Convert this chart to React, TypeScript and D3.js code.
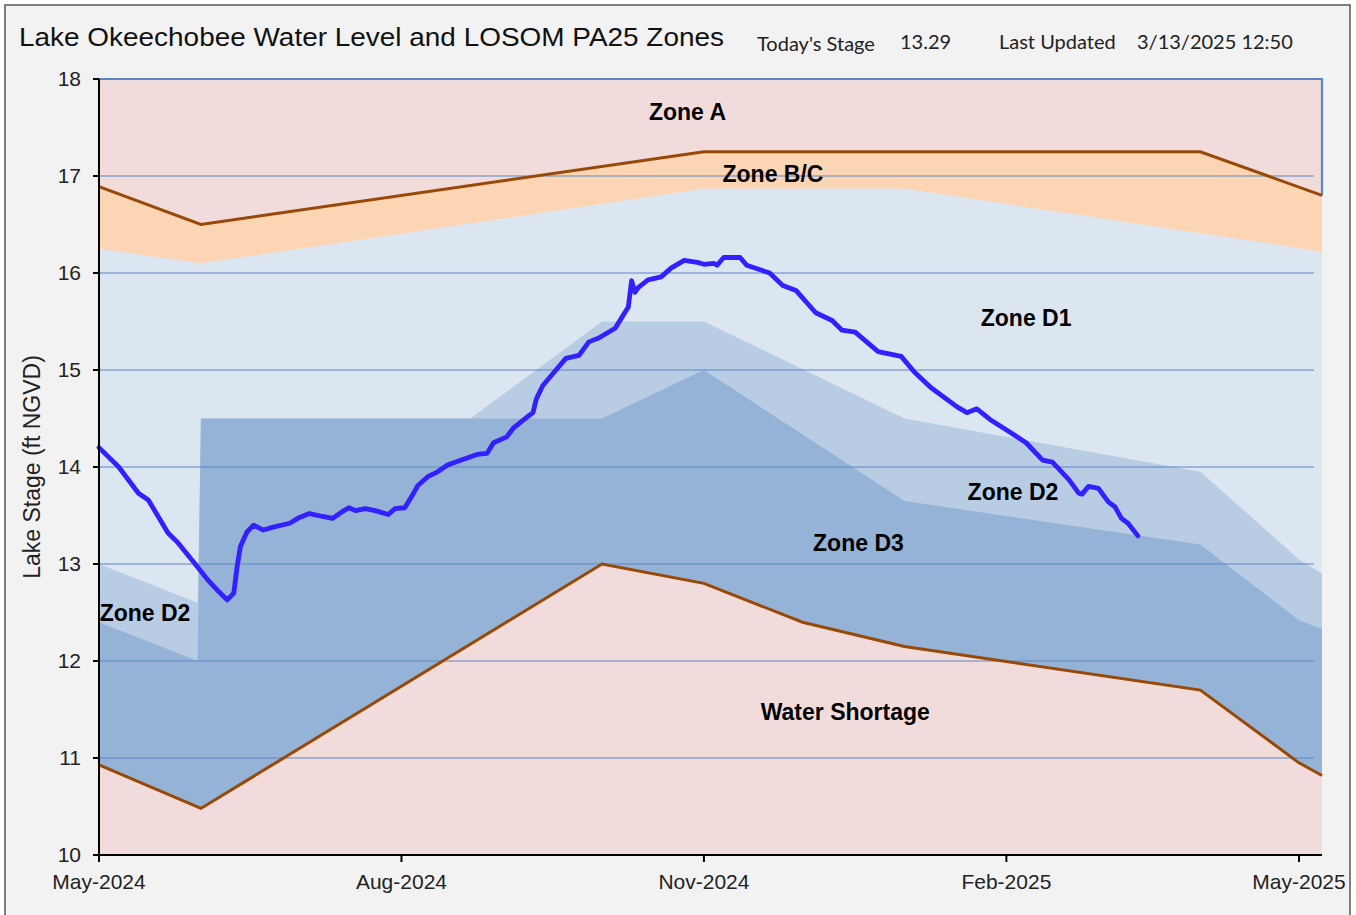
import React from 'react';
import * as d3 from 'd3';

// lake stage readings (ft NGVD)
const stage: [string, number][] = [
  ['2024-05-01', 14.2], ['2024-05-07', 14.0], ['2024-05-13', 13.73], ['2024-05-16', 13.66],
  ['2024-05-22', 13.32], ['2024-05-25', 13.22], ['2024-05-30', 13.01], ['2024-06-03', 12.84],
  ['2024-06-06', 12.73], ['2024-06-09', 12.63], ['2024-06-11', 12.7], ['2024-06-12', 12.97],
  ['2024-06-13', 13.18], ['2024-06-15', 13.33], ['2024-06-17', 13.4], ['2024-06-20', 13.35],
  ['2024-06-23', 13.38], ['2024-06-28', 13.42], ['2024-07-01', 13.48], ['2024-07-04', 13.52],
  ['2024-07-08', 13.49], ['2024-07-11', 13.47], ['2024-07-14', 13.54], ['2024-07-16', 13.58],
  ['2024-07-18', 13.55], ['2024-07-21', 13.57], ['2024-07-24', 13.55], ['2024-07-28', 13.51],
  ['2024-07-30', 13.57], ['2024-08-02', 13.58], ['2024-08-04', 13.69], ['2024-08-06', 13.81],
  ['2024-08-09', 13.9], ['2024-08-12', 13.95], ['2024-08-15', 14.02], ['2024-08-19', 14.07],
  ['2024-08-24', 14.13], ['2024-08-27', 14.14], ['2024-08-29', 14.25], ['2024-09-02', 14.31],
  ['2024-09-04', 14.4], ['2024-09-08', 14.51], ['2024-09-10', 14.56], ['2024-09-11', 14.7],
  ['2024-09-13', 14.84], ['2024-09-17', 15.0], ['2024-09-20', 15.12], ['2024-09-24', 15.15],
  ['2024-09-27', 15.29], ['2024-09-30', 15.33], ['2024-10-05', 15.43], ['2024-10-07', 15.54],
  ['2024-10-09', 15.65], ['2024-10-10', 15.92], ['2024-10-11', 15.8], ['2024-10-12', 15.85],
  ['2024-10-15', 15.93], ['2024-10-19', 15.96], ['2024-10-22', 16.05], ['2024-10-26', 16.13],
  ['2024-10-30', 16.11], ['2024-11-01', 16.09], ['2024-11-04', 16.1], ['2024-11-05', 16.08],
  ['2024-11-07', 16.16], ['2024-11-12', 16.16], ['2024-11-14', 16.08], ['2024-11-21', 16.0],
  ['2024-11-25', 15.87], ['2024-11-29', 15.82], ['2024-12-05', 15.59], ['2024-12-10', 15.51],
  ['2024-12-13', 15.41], ['2024-12-17', 15.39], ['2024-12-24', 15.19], ['2024-12-31', 15.14],
  ['2025-01-04', 14.98], ['2025-01-09', 14.82], ['2025-01-17', 14.62], ['2025-01-20', 14.56],
  ['2025-01-23', 14.6], ['2025-01-27', 14.49], ['2025-02-02', 14.36], ['2025-02-07', 14.25],
  ['2025-02-12', 14.07], ['2025-02-15', 14.05], ['2025-02-20', 13.87], ['2025-02-23', 13.73],
  ['2025-02-24', 13.72], ['2025-02-26', 13.8], ['2025-03-01', 13.78], ['2025-03-04', 13.64],
  ['2025-03-06', 13.59], ['2025-03-08', 13.47], ['2025-03-10', 13.42], ['2025-03-13', 13.29],
];

// zone boundaries (top edge of each zone)
const zoneBCTop: [string, number][] = [
  ['2024-05-01', 16.89], ['2024-06-01', 16.5], ['2024-11-01', 17.25], ['2025-04-01', 17.25], ['2025-05-08', 16.8],
];
const zoneD1Top: [string, number][] = [
  ['2024-05-01', 16.25], ['2024-06-01', 16.1], ['2024-11-01', 16.87], ['2025-01-01', 16.87], ['2025-05-08', 16.22],
];
const zoneD2Top: [string, number][] = [
  ['2024-05-01', 13.0], ['2024-05-31', 12.6], ['2024-06-01', 14.5], ['2024-08-22', 14.5], ['2024-10-01', 15.5],
  ['2024-11-01', 15.5], ['2025-01-01', 14.5], ['2025-04-01', 13.95], ['2025-05-01', 13.05], ['2025-05-08', 12.9],
];
const zoneD3Top: [string, number][] = [
  ['2024-05-01', 12.4], ['2024-05-31', 12.0], ['2024-06-01', 14.5], ['2024-10-01', 14.5], ['2024-11-01', 15.0],
  ['2025-01-01', 13.65], ['2025-04-01', 13.2], ['2025-05-01', 12.42], ['2025-05-08', 12.33],
];
const shortageTop: [string, number][] = [
  ['2024-05-01', 10.93], ['2024-06-01', 10.48], ['2024-10-01', 13.0], ['2024-11-01', 12.8], ['2024-12-01', 12.4],
  ['2025-01-01', 12.15], ['2025-04-01', 11.7], ['2025-05-01', 10.95], ['2025-05-08', 10.82],
];

const zoneLabels: [string, string, number][] = [
  ['Zone A', '2024-10-27', 17.66],
  ['Zone B/C', '2024-11-22', 17.02],
  ['Zone D1', '2025-02-07', 15.54],
  ['Zone D2', '2025-02-03', 13.74],
  ['Zone D3', '2024-12-18', 13.22],
  ['Zone D2', '2024-05-15', 12.5],
  ['Water Shortage', '2024-12-14', 11.47],
];

const yTicks = [10, 11, 12, 13, 14, 15, 16, 17, 18];
const xTicks = ['2024-05-01', '2024-08-01', '2024-11-01', '2025-02-01', '2025-05-01'];

const todayStage = '13.29';
const lastUpdated = '3/13/2025 12:50';

const parse = d3.timeParse('%Y-%m-%d');
const W = 1356;
const H = 915;

export default function App() {
  const x = d3.scaleTime()
    .domain([parse('2024-05-01')!, parse('2025-05-08')!])
    .range([99, 1322]);
  const y = d3.scaleLinear().domain([10, 18]).range([855, 79]);

  const area = d3.area<[string, number]>()
    .x(d => x(parse(d[0])!))
    .y0(y(10))
    .y1(d => y(d[1]));
  const line = d3.line<[string, number]>()
    .x(d => x(parse(d[0])!))
    .y(d => y(d[1]));

  const [x0, x1] = x.range();
  const fmt = d3.timeFormat('%b-%Y');
  const axisFont = '"Liberation Sans", Arial, sans-serif';
  const lastA = zoneBCTop[zoneBCTop.length - 1][1];

  return (
    <div style={{ position: 'absolute', left: 0, top: 0 }}>
      <svg width={W} height={H} style={{ display: 'block' }}>
        <rect x={0} y={0} width={W} height={H} fill="#ffffff" />
        <rect x={5} y={5} width={1345} height={H} fill="#f2f2f2" stroke="#555" strokeWidth={1.5} />

        <text x={19} y={46} fontFamily={axisFont} fontSize={25} fill="#111"
          textLength={705} lengthAdjust="spacingAndGlyphs">
          Lake Okeechobee Water Level and LOSOM PA25 Zones
        </text>
        <g fontFamily='Lato, "Open Sans", sans-serif' fontSize={20} fill="#222">
          <text x={757} y={51}>Today's Stage</text>
          <text x={900} y={49}>{todayStage}</text>
          <text x={999} y={49}>Last Updated</text>
          <text x={1137} y={49}>{lastUpdated}</text>
        </g>

        {/* zones */}
        <rect x={x0} y={y(18)} width={x1 - x0} height={y(10) - y(18)} fill="#f2dcdb" />
        <path d={area(zoneBCTop)!} fill="#fcd5b4" />
        <path d={area(zoneD1Top)!} fill="#dce6f1" />
        <path d={area(zoneD2Top)!} fill="#b8cce4" />
        <path d={area(zoneD3Top)!} fill="#95b3d7" />
        <path d={area(shortageTop)!} fill="#f2dcdb" />

        {/* gridlines */}
        {yTicks.filter(t => t > 10 && t < 18).map(t => (
          <line key={t} x1={x0} x2={1314} y1={y(t)} y2={y(t)} stroke="#5b85c4" strokeWidth={1.2} />
        ))}
        <path d={`M${x0},${y(18)}H${x1}V${y(lastA)}`} fill="none" stroke="#5b85c4" strokeWidth={2.2} />

        <path d={line(zoneBCTop)!} fill="none" stroke="#984807" strokeWidth={3} />
        <path d={line(shortageTop)!} fill="none" stroke="#984807" strokeWidth={3} />

        <g fontFamily={axisFont} fontSize={23} fontWeight="bold" fill="#000" textAnchor="middle">
          {zoneLabels.map(([t, d, v], i) => (
            <text key={i} x={x(parse(d)!)} y={y(v)} dy="0.35em">{t}</text>
          ))}
        </g>

        <path d={line(stage)!} fill="none" stroke="#3320ff" strokeWidth={4.8} strokeLinejoin="round" strokeLinecap="round" />

        {/* axes */}
        <line x1={x0} x2={x0} y1={y(18)} y2={y(10)} stroke="#000" strokeWidth={2} />
        <line x1={x0} x2={x1} y1={y(10)} y2={y(10)} stroke="#000" strokeWidth={2} />
        <g fontFamily={axisFont} fontSize={21} fill="#222">
          {yTicks.map(t => (
            <g key={t}>
              <line x1={x0 - 6} x2={x0} y1={y(t)} y2={y(t)} stroke="#000" strokeWidth={2} />
              <text x={81} y={y(t)} dy="0.35em" textAnchor="end">{t}</text>
            </g>
          ))}
          {xTicks.map(t => (
            <g key={t}>
              <line x1={x(parse(t)!)} x2={x(parse(t)!)} y1={y(10)} y2={y(10) + 7} stroke="#000" strokeWidth={2} />
              <text x={x(parse(t)!)} y={889} textAnchor="middle">{fmt(parse(t)!)}</text>
            </g>
          ))}
          <text transform={`translate(40,${(y(10) + y(18)) / 2}) rotate(-90)`} textAnchor="middle" fontSize={23}>
            Lake Stage (ft NGVD)
          </text>
        </g>
      </svg>
    </div>
  );
}
